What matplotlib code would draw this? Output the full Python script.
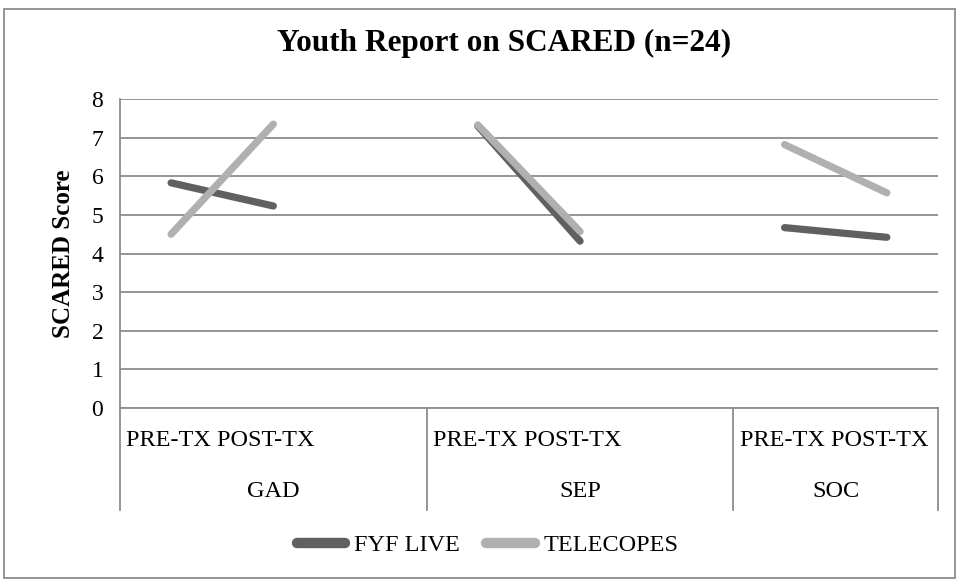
import numpy as np
import matplotlib.pyplot as plt
from matplotlib.patches import Rectangle

plt.rcParams['font.family'] = ['Liberation Serif', 'DejaVu Serif']

# categories: each group has PRE/POST and a blank slot (Excel style gap)
groups = ['GAD', 'SEP', 'SOC']
phases = ['PRE-TX', 'POST-TX']
fyf_live = [5.83, 5.23, np.nan, 7.30, 4.32, np.nan, 4.67, 4.42]
telecopes = [4.50, 7.35, np.nan, 7.33, 4.57, np.nan, 6.82, 5.57]

fig = plt.figure(figsize=(9.56, 5.79), dpi=100)
ax = fig.add_axes([0.1255, 0.2953, 0.8556, 0.5337])

x = np.arange(len(fyf_live))
ax.plot(x, fyf_live, color='#606060', lw=5.2, solid_capstyle='round', label='FYF LIVE')
ax.plot(x, telecopes, color='#b0b0b0', lw=5.2, solid_capstyle='round', label='TELECOPES')

ax.set_xlim(-0.5, 7.5)
ax.set_ylim(0, 8)
ax.set_yticks(range(0, 9))
ax.tick_params(axis='y', length=0, labelsize=17, pad=12)
ax.set_xticks([])
ax.grid(axis='y', color='#8c8c8c', lw=1.3)
ax.set_axisbelow(True)
for s in ['top', 'right']:
    ax.spines[s].set_visible(False)
ax.spines['bottom'].set_color('#8c8c8c')
ax.spines['left'].set_color('#8c8c8c')
ax.spines['bottom'].set_linewidth(1.3)
ax.spines['left'].set_linewidth(1.3)

# category axis boxes below the plot
sep_bottom = -0.33
trans = ax.get_xaxis_transform()
for xs in [-0.5, 2.5, 5.5, 7.5]:
    ax.plot([xs, xs], [0, sep_bottom], color='#8c8c8c', lw=1.3,
            transform=trans, clip_on=False)
starts = [-0.5, 2.5, 5.5]
ends = [2.5, 5.5, 7.5]
for g, s0, e0 in zip(groups, starts, ends):
    ax.text(s0 + 0.06, -0.105, ' '.join(phases), transform=trans,
            ha='left', va='center', fontsize=17.5)
    ax.text((s0 + e0) / 2, -0.27, g, transform=trans,
            ha='center', va='center', fontsize=17.5)

ax.set_ylabel('SCARED Score', fontsize=18, fontweight='bold', labelpad=12)
fig.text(0.527, 0.925, 'Youth Report on SCARED (n=24)', ha='center', va='center',
         fontsize=22.5, fontweight='bold')

leg = fig.legend(loc='center', bbox_to_anchor=(0.51, 1 - 545 / 579), ncol=2,
                 frameon=False, fontsize=17.5, handlelength=2.0, handletextpad=0.35,
                 columnspacing=1.1)
for h in leg.legend_handles:
    h.set_linewidth(7.5)

fig.patches.append(Rectangle((4 / 956, 1 / 579), 951 / 956, 1 - 10 / 579,
                             transform=fig.transFigure, fill=False,
                             edgecolor='#8c8c8c', lw=1.3))

fig.savefig('out.png', dpi=100)
